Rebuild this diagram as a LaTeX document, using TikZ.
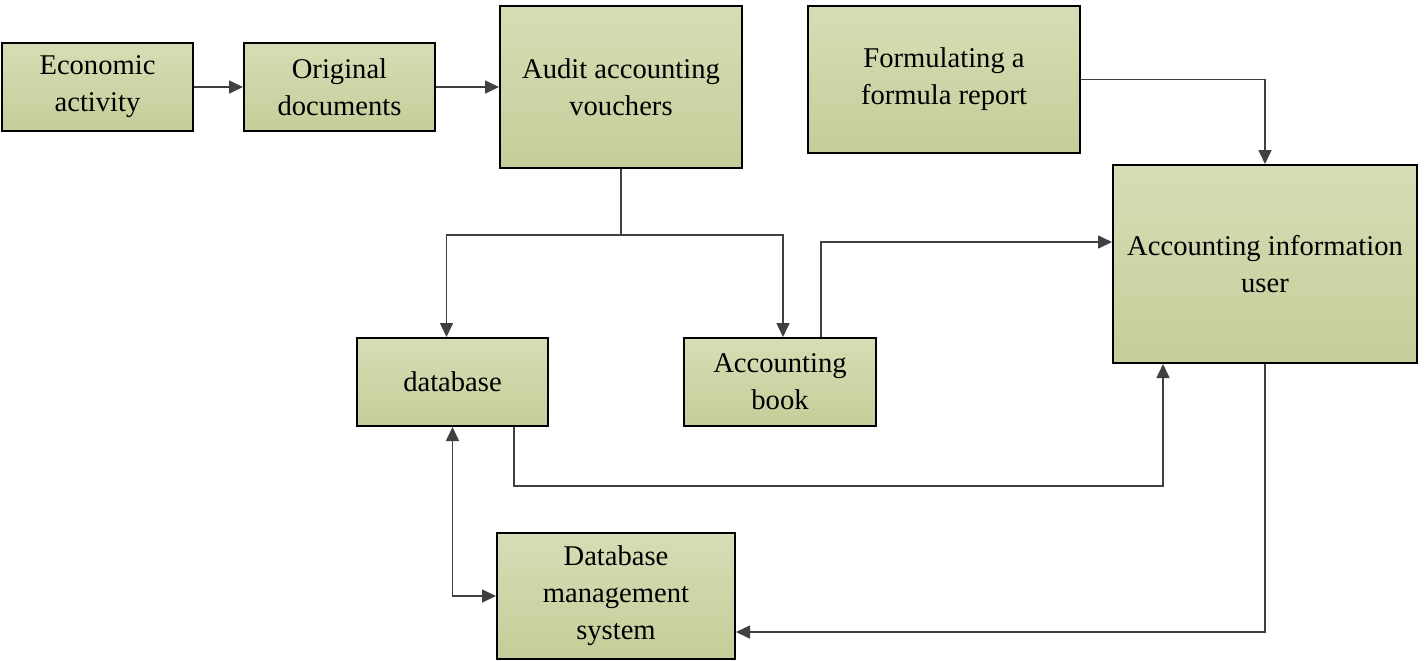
\documentclass[tikz,border=0pt]{standalone}
\usepackage{fontspec}
\setmainfont{Liberation Serif}
\usetikzlibrary{arrows.meta}
\definecolor{boxtop}{RGB}{214,221,181}
\definecolor{boxbot}{RGB}{196,206,153}
\definecolor{linegray}{RGB}{64,64,64}
\begin{document}
\begin{tikzpicture}[
  x=0.5pt,y=-0.5pt,
  font=\fontsize{14.3pt}{18.5pt}\selectfont,
  block/.style={draw=black,line width=1pt,top color=boxtop,bottom color=boxbot,
    inner sep=0pt,align=center},
  small/.style={block,minimum width=95.5pt,minimum height=44pt},
  to/.style={-{Triangle[length=7pt,width=6.5pt]},draw=linegray,line width=0.8pt},
  tofro/.style={{Triangle[length=7pt,width=6.5pt]}-{Triangle[length=7pt,width=6.5pt]},
    draw=linegray,line width=0.8pt}]

  \useasboundingbox (0,0) rectangle (1425,660);

  % Position the nodes at pixel coordinates
  \node[small] (econ) at (97.5,87) {Economic\\activity};
  \node[small] (orig) at (339.5,87) {Original\\documents};
  \node[block,minimum width=121pt,minimum height=81pt] (audit) at (621,87)
    {Audit accounting\\vouchers};
  \node[block,minimum width=136pt,minimum height=73.5pt] (report) at (944,79.5)
    {Formulating a\\formula report};
  \node[block,minimum width=152pt,minimum height=99pt] (user) at (1265,264)
    {Accounting information\\user};
  \node[small] (db) at (452.5,382) {database};
  \node[small,minimum width=96pt] (book) at (780,382) {Accounting\\book};
  \node[block,minimum width=119pt,minimum height=63pt] (dbms) at (616,596)
    {Database\\management\\system};

  \coordinate (split) at (621,235);

  % Draw the arrows between the nodes
  \draw[to] (econ) -- (orig);
  \draw[to] (orig.east) -- (audit.west |- orig.east);
  \draw[to] (audit.south) -- (split) -| ([xshift=-3pt]db.north);
  \draw[to] (split) -| ([xshift=1.5pt]book.north);
  \draw[to] ([xshift=20.5pt]book.north) |- ([yshift=11pt]user.west);
  \draw[to] (report.east) -| (user.north);
  \draw[to] ([xshift=30.75pt]db.south) -- ++(0,59) -| ([xshift=-51pt]user.south);
  \draw[tofro] (db.south) |- (dbms.west);
  \draw[to] (user.south) |- ([yshift=-18pt]dbms.east);

\end{tikzpicture}
\end{document}
